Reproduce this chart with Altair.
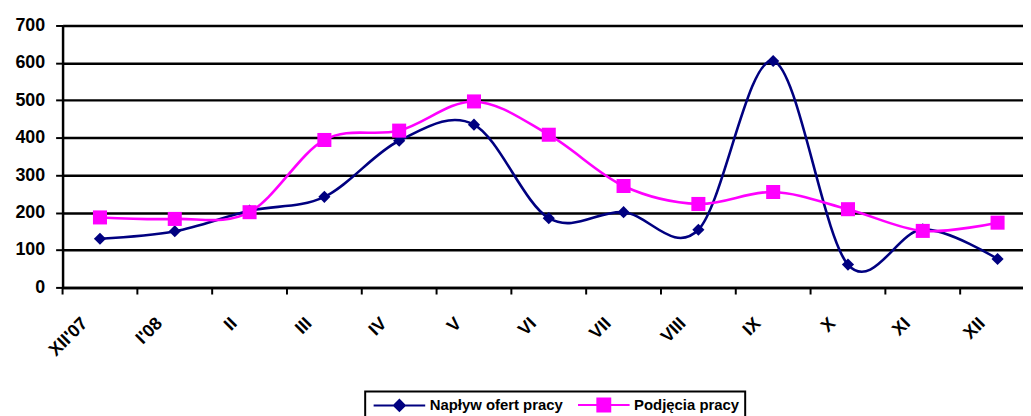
import json
import altair as alt
import pandas as pd

months = ["XII'07", "I'08", "II", "III", "IV", "V", "VI", "VII", "VIII", "IX", "X", "XI", "XII"]
naplyw = [130, 150, 205, 242, 392, 435, 185, 201, 154, 605, 61, 155, 76]
podjecia = [187, 183, 201, 394, 419, 497, 408, 271, 223, 255, 209, 151, 173]
series_names = ["Napływ ofert pracy", "Podjęcia pracy"]
series_colors = ["#000080", "#FF00FF"]
y_ticks = [0, 100, 200, 300, 400, 500, 600, 700]

rows = []
for i, m in enumerate(months):
    rows.append({"idx": i, "month": m, "series": series_names[0], "value": naplyw[i]})
    rows.append({"idx": i, "month": m, "series": series_names[1], "value": podjecia[i]})
df = pd.DataFrame(rows)
tick_df = pd.DataFrame({"idx": [i - 0.5 for i in range(len(months))]})

FONT = "Arial, Liberation Sans, sans-serif"
label_expr = json.dumps(months) + "[datum.value]"

xscale = alt.Scale(domain=[-0.5, 12.34], nice=False, zero=False)
yscale = alt.Scale(domain=[0, 700], nice=False)

x_axis = alt.Axis(values=list(range(len(months))), labelExpr=label_expr,
                  ticks=False, grid=False, domain=True, domainColor="black",
                  domainWidth=2.5, labelAngle=-45, labelFont=FONT,
                  labelFontSize=18, labelFontWeight="bold", labelColor="black",
                  labelPadding=27, labelOffset=-22, labelOverlap=False, labelBound=False)
y_axis = alt.Axis(values=y_ticks, grid=True, gridColor="black", gridWidth=2.5,
                  domain=True, domainColor="black", domainWidth=2.5,
                  tickColor="black", tickWidth=2, tickSize=7, labelOverlap=False,
                  labelFont=FONT, labelFontSize=18, labelFontWeight="bold",
                  labelColor="black", labelPadding=11)


def xe():
    return alt.X("idx:Q", scale=xscale, title=None, axis=x_axis)


def ye():
    return alt.Y("value:Q", scale=yscale, title=None, axis=y_axis)


base = alt.Chart(df)
layers = []
shapes = ["diamond", "square"]
sizes = [150, 200]
for name, col, shp, sz in zip(series_names, series_colors, shapes, sizes):
    sub = base.transform_filter(alt.datum.series == name)
    layers.append(sub.mark_line(interpolate="cardinal", strokeWidth=2.6, color=col)
                  .encode(x=xe(), y=ye()))
    layers.append(sub.mark_point(filled=True, shape=shp, size=sz, color=col, opacity=1)
                  .encode(x=xe(), y=ye()))

ticks = alt.Chart(tick_df).mark_rule(color="black", strokeWidth=2, clip=False).encode(
    x=xe(), y=alt.YDatum(0, scale=yscale, axis=y_axis, title=None),
    y2=alt.Y2Datum(-19))

legend_paths = [
    "M-1,0H9.4M3.1,0L4.2,-1.1L5.3,0L4.2,1.1Z",
    "M-1,0H9.4M2.9,-1.3H5.5V1.3H2.9Z",
]
leg_scale_c = alt.Scale(domain=series_names, range=series_colors)
leg = base.transform_filter("false").mark_point(filled=True, size=100, opacity=1).encode(
    x=xe(), y=ye(),
    fill=alt.Fill("series:N", scale=leg_scale_c, title=None,
                  legend=alt.Legend(orient="none", legendX=305, legendY=369,
                                    direction="horizontal", title=None)),
    stroke=alt.Stroke("series:N", scale=leg_scale_c, title=None),
    shape=alt.Shape("series:N", scale=alt.Scale(domain=series_names, range=legend_paths),
                    title=None),
)

chart = alt.layer(*layers, ticks, leg).properties(
    width=968, height=264,
    autosize=alt.AutoSizeParams(type="none"),
    padding={"left": 55, "top": 16, "right": 0, "bottom": 128},
).configure_view(stroke=None).configure(background="white").configure_legend(
    strokeColor="black", strokeWidth=2, padding=6, fillColor="white",
    labelFont=FONT, labelFontSize=15, labelFontWeight="bold", labelColor="black",
    labelOffset=44, columnPadding=10, symbolSize=100, symbolStrokeWidth=2,
)

chart.save("out.html", embed_options={"renderer": "svg", "actions": False})
